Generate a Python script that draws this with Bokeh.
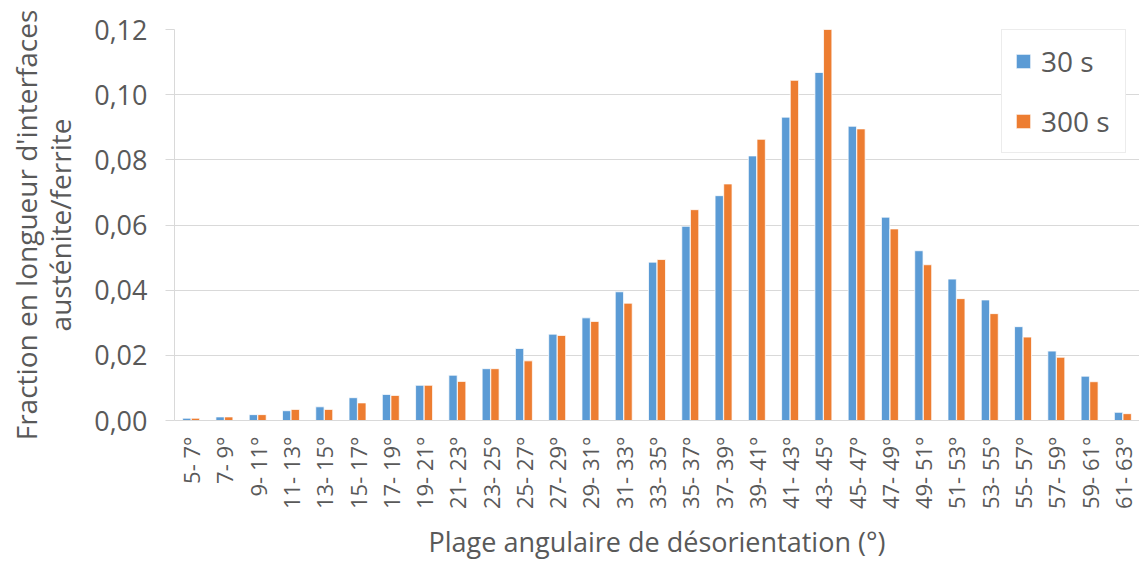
from bokeh.plotting import figure
from bokeh.models import (FactorRange, Range1d, FixedTicker, CustomJSTickFormatter,
                          ColumnDataSource, Legend, LegendItem)
from bokeh.transform import dodge
from bokeh.embed import file_html
from bokeh.resources import INLINE
import math

categories = ["5- 7°", "7- 9°", "9- 11°", "11- 13°", "13- 15°", "15- 17°", "17- 19°",
              "19- 21°", "21- 23°", "23- 25°", "25- 27°", "27- 29°", "29- 31°", "31- 33°",
              "33- 35°", "35- 37°", "37- 39°", "39- 41°", "41- 43°", "43- 45°", "45- 47°",
              "47- 49°", "49- 51°", "51- 53°", "53- 55°", "55- 57°", "57- 59°", "59- 61°",
              "61- 63°"]
series_30s = [0.0007, 0.0011, 0.0018, 0.0030, 0.0042, 0.0070, 0.0080,
              0.0108, 0.0139, 0.0159, 0.0221, 0.0265, 0.0315, 0.0395,
              0.0486, 0.0596, 0.0690, 0.0812, 0.0931, 0.1068, 0.0903,
              0.0624, 0.0521, 0.0434, 0.0370, 0.0288, 0.0213, 0.0136,
              0.0025]
series_300s = [0.0007, 0.0011, 0.0018, 0.0034, 0.0034, 0.0054, 0.0077,
               0.0108, 0.0120, 0.0159, 0.0183, 0.0261, 0.0304, 0.0360,
               0.0494, 0.0647, 0.0726, 0.0863, 0.1044, 0.1200, 0.0895,
               0.0588, 0.0478, 0.0374, 0.0328, 0.0256, 0.0194, 0.0119,
               0.0021]
y_ticks = [0.0, 0.02, 0.04, 0.06, 0.08, 0.10, 0.12]
series_names = ["30 s", "300 s"]
y_title = "Fraction en longueur d'interfaces\nausténite/ferrite"
x_title = "Plage angulaire de désorientation (°)"

FONT = "Open Sans"
TXT = "#595959"
GRID = "#D9D9D9"
BLUE = "#5B9BD5"
ORANGE = "#ED7D31"

source = ColumnDataSource(dict(cat=categories, s30=series_30s, s300=series_300s))

p = figure(width=1139, height=563, output_backend="svg", toolbar_location=None,
           x_range=FactorRange(factors=categories, range_padding=0),
           y_range=Range1d(0, 0.12),
           min_border_left=174, min_border_right=0, min_border_top=29, min_border_bottom=10)
p.outline_line_color = None
p.background_fill_color = "white"
p.border_fill_color = "white"

r1 = p.vbar(x=dodge("cat", -0.13, range=p.x_range), top="s30", width=0.25, source=source,
            fill_color=BLUE, line_color="white", line_width=0.75)
r2 = p.vbar(x=dodge("cat", 0.13, range=p.x_range), top="s300", width=0.25, source=source,
            fill_color=ORANGE, line_color="white", line_width=0.75)

# y axis
p.yaxis.ticker = FixedTicker(ticks=y_ticks)
p.yaxis.formatter = CustomJSTickFormatter(code="return tick.toFixed(2).replace('.', ',');")
p.yaxis.axis_label = y_title
p.yaxis.axis_label_text_font = FONT
p.yaxis.axis_label_text_font_size = "28px"
p.yaxis.axis_label_text_font_style = "normal"
p.yaxis.axis_label_text_color = TXT
p.yaxis.axis_label_text_line_height = 0.9
p.yaxis.axis_label_standoff = 12
p.yaxis.major_label_text_font = FONT
p.yaxis.major_label_text_font_size = "27px"
p.yaxis.major_label_text_color = TXT
p.yaxis.major_label_standoff = 18
p.yaxis.axis_line_color = GRID
p.yaxis.major_tick_line_color = GRID
p.yaxis.major_tick_out = 9
p.yaxis.major_tick_in = 0
p.yaxis.minor_tick_line_color = None

# x axis
p.xaxis.axis_label = x_title
p.xaxis.axis_label_text_font = FONT
p.xaxis.axis_label_text_font_size = "27px"
p.xaxis.axis_label_text_font_style = "normal"
p.xaxis.axis_label_text_color = TXT
p.xaxis.axis_label_standoff = 11
p.xaxis.major_label_orientation = math.pi / 2
p.xaxis.major_label_text_font = FONT
p.xaxis.major_label_text_font_size = "22px"
p.xaxis.major_label_text_color = TXT
p.xaxis.major_label_standoff = 10
p.xaxis.axis_line_color = GRID
p.xaxis.major_tick_line_color = None
p.xaxis.minor_tick_line_color = None

p.xgrid.grid_line_color = None
p.ygrid.grid_line_color = GRID
p.ygrid.grid_line_width = 1
p.ygrid.ticker = FixedTicker(ticks=y_ticks)

legend = Legend(items=[LegendItem(label=series_names[0], renderers=[r1]),
                       LegendItem(label=series_names[1], renderers=[r2])],
                location=(827, 267))
legend.label_text_font = FONT
legend.label_text_font_size = "28px"
legend.label_text_color = TXT
legend.glyph_width = 18
legend.glyph_height = 18
legend.label_height = 30
legend.label_width = 72
legend.label_standoff = 9
legend.padding = 12
legend.spacing = 22
legend.margin = 0
legend.border_line_color = GRID
legend.border_line_width = 1
legend.background_fill_color = "white"
legend.background_fill_alpha = 1
p.add_layout(legend, "center")

open("out.html", "w").write(file_html(p, INLINE))
